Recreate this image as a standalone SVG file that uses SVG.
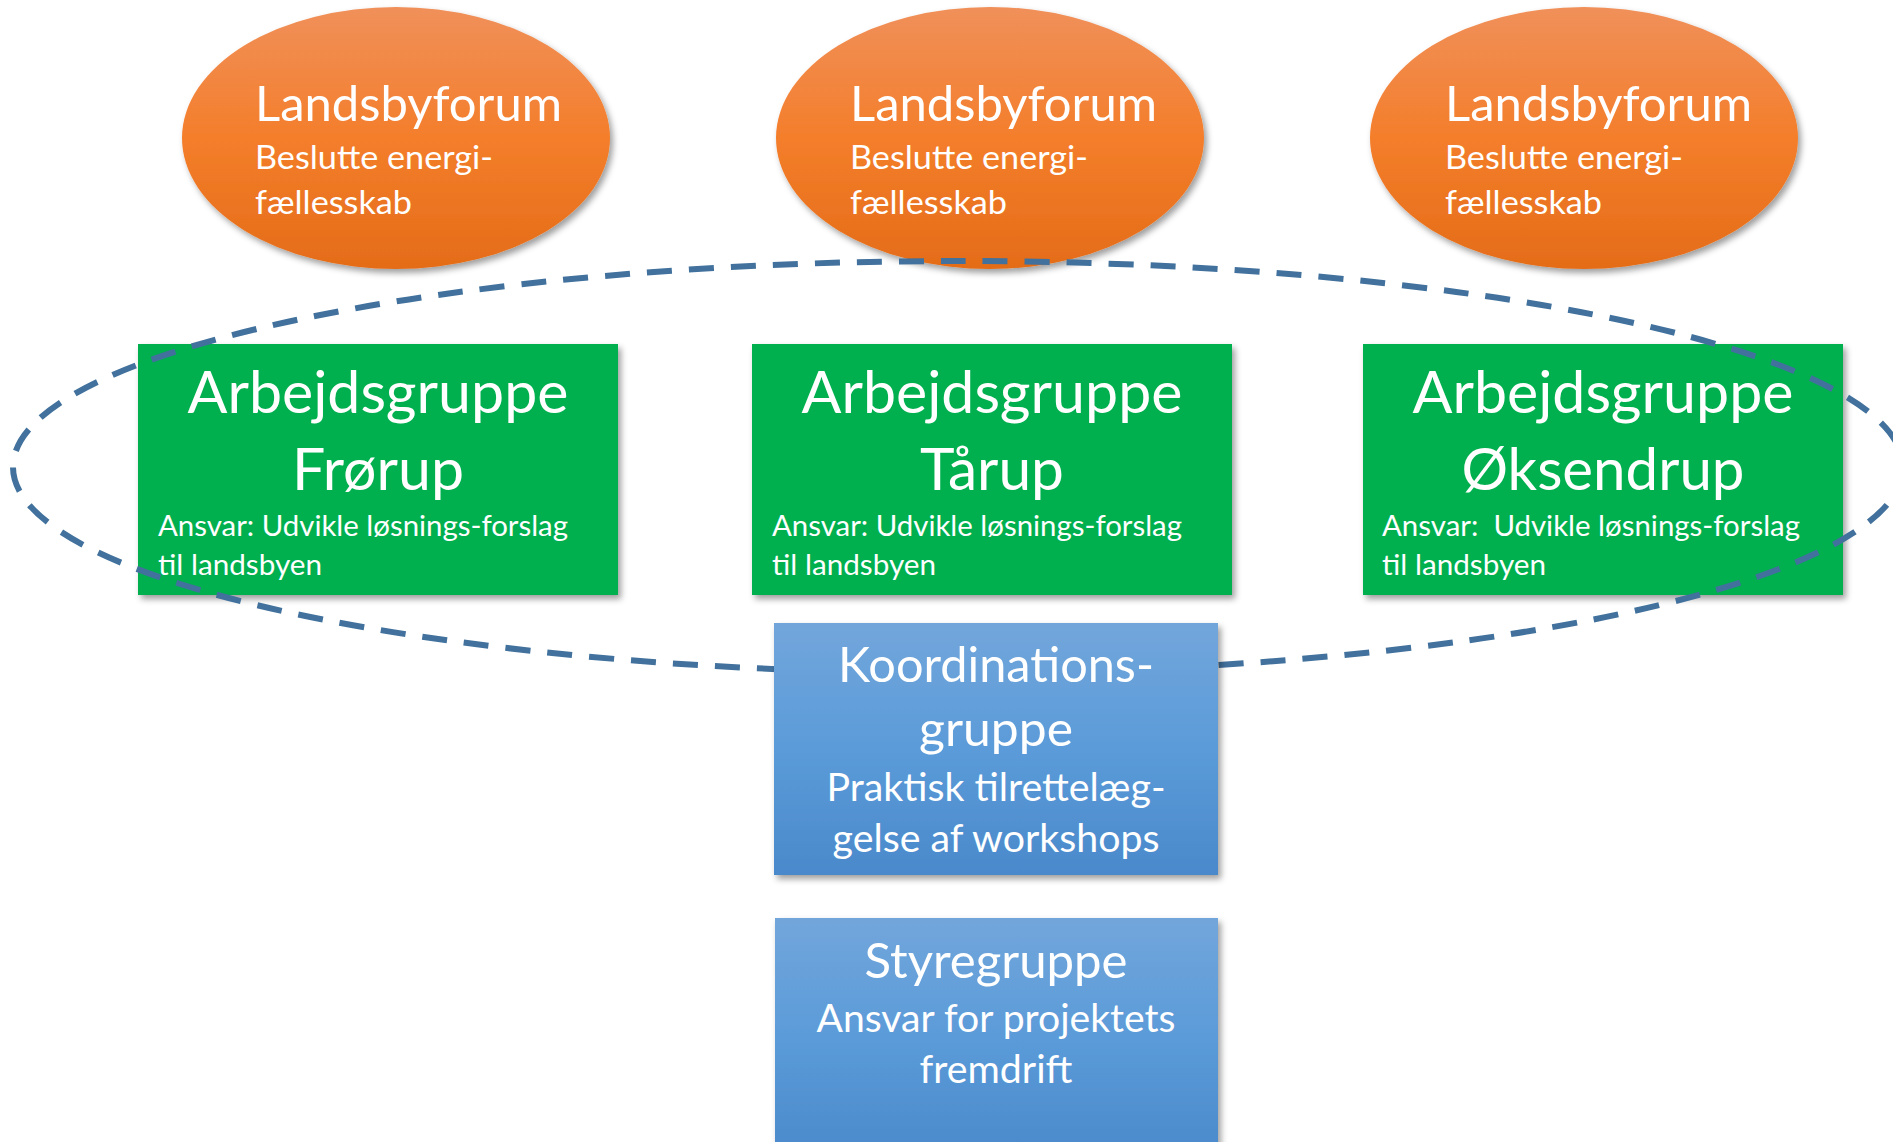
<svg xmlns="http://www.w3.org/2000/svg" width="1893" height="1142" viewBox="0 0 1893 1142">
  <defs>
    <linearGradient id="gOrange" x1="0" y1="0" x2="0" y2="1">
      <stop offset="0" stop-color="#F0905A"/>
      <stop offset="0.5" stop-color="#F47E2B"/>
      <stop offset="1" stop-color="#E46C18"/>
    </linearGradient>
    <linearGradient id="gBlue" x1="0" y1="0" x2="0" y2="1">
      <stop offset="0" stop-color="#72A6DB"/>
      <stop offset="0.5" stop-color="#5B9BD9"/>
      <stop offset="1" stop-color="#4A89CB"/>
    </linearGradient>
    <filter id="shadow" x="-10%" y="-10%" width="125%" height="125%">
      <feDropShadow dx="3" dy="4" stdDeviation="3" flood-color="#000" flood-opacity="0.38"/>
    </filter>
  </defs>
  <style>
    text { font-family: Lato, "Open Sans", "Liberation Sans", sans-serif; fill: #FFFFFF; }
    .lf { fill: url(#gOrange); filter: url(#shadow); }
    .ag { fill: #00B050; filter: url(#shadow); }
    .bl { fill: url(#gBlue); filter: url(#shadow); }
    .t1 { font-size: 48.5px; }
    .t2 { font-size: 33.5px; }
    .h1 { font-size: 57.5px; text-anchor: middle; }
    .s1 { font-size: 28.5px; }
    .k1 { font-size: 47.5px; text-anchor: middle; }
    .k2 { font-size: 38px; text-anchor: middle; }
    .dash { fill: none; stroke: #41719C; stroke-width: 6; stroke-dasharray: 25 17; }
  </style>
  <rect width="1893" height="1142" fill="#FFFFFF"/>

  <g id="landsbyforum-1">
    <ellipse class="lf" cx="396" cy="138" rx="214" ry="131"/>
    <text class="t1" x="255" y="121" textLength="307" lengthAdjust="spacingAndGlyphs">Landsbyforum</text>
    <text class="t2" x="255" y="169" textLength="238" lengthAdjust="spacingAndGlyphs">Beslutte energi-</text>
    <text class="t2" x="255" y="214" textLength="157" lengthAdjust="spacingAndGlyphs">fællesskab</text>
  </g>
  <g id="landsbyforum-2">
    <ellipse class="lf" cx="990" cy="138" rx="214" ry="131"/>
    <text class="t1" x="850" y="121" textLength="307" lengthAdjust="spacingAndGlyphs">Landsbyforum</text>
    <text class="t2" x="850" y="169" textLength="238" lengthAdjust="spacingAndGlyphs">Beslutte energi-</text>
    <text class="t2" x="850" y="214" textLength="157" lengthAdjust="spacingAndGlyphs">fællesskab</text>
  </g>
  <g id="landsbyforum-3">
    <ellipse class="lf" cx="1584" cy="138" rx="214" ry="131"/>
    <text class="t1" x="1445" y="121" textLength="307" lengthAdjust="spacingAndGlyphs">Landsbyforum</text>
    <text class="t2" x="1445" y="169" textLength="238" lengthAdjust="spacingAndGlyphs">Beslutte energi-</text>
    <text class="t2" x="1445" y="214" textLength="157" lengthAdjust="spacingAndGlyphs">fællesskab</text>
  </g>

  <g id="arbejdsgruppe-frorup">
    <rect class="ag" x="138" y="344" width="480" height="251"/>
    <text class="h1" x="378" y="413" textLength="381" lengthAdjust="spacingAndGlyphs">Arbejdsgruppe</text>
    <text class="h1" x="378" y="490" textLength="172" lengthAdjust="spacingAndGlyphs">Frørup</text>
    <text class="s1" x="158" y="536" textLength="410" lengthAdjust="spacingAndGlyphs">Ansvar: Udvikle løsnings-forslag</text>
    <text class="s1" x="158" y="575" textLength="164" lengthAdjust="spacingAndGlyphs">til landsbyen</text>
  </g>
  <g id="arbejdsgruppe-tarup">
    <rect class="ag" x="752" y="344" width="480" height="251"/>
    <text class="h1" x="992" y="413" textLength="381" lengthAdjust="spacingAndGlyphs">Arbejdsgruppe</text>
    <text class="h1" x="992" y="490" textLength="144" lengthAdjust="spacingAndGlyphs">Tårup</text>
    <text class="s1" x="772" y="536" textLength="410" lengthAdjust="spacingAndGlyphs">Ansvar: Udvikle løsnings-forslag</text>
    <text class="s1" x="772" y="575" textLength="164" lengthAdjust="spacingAndGlyphs">til landsbyen</text>
  </g>
  <g id="arbejdsgruppe-oksendrup">
    <rect class="ag" x="1363" y="344" width="480" height="251"/>
    <text class="h1" x="1603" y="413" textLength="381" lengthAdjust="spacingAndGlyphs">Arbejdsgruppe</text>
    <text class="h1" x="1603" y="490" textLength="283" lengthAdjust="spacingAndGlyphs">Øksendrup</text>
    <text class="s1" x="1382" y="536" textLength="418" lengthAdjust="spacingAndGlyphs" xml:space="preserve">Ansvar:  Udvikle løsnings-forslag</text>
    <text class="s1" x="1382" y="575" textLength="164" lengthAdjust="spacingAndGlyphs">til landsbyen</text>
  </g>

  <g id="connectors">
    <ellipse class="dash" cx="958" cy="467" rx="945" ry="206"/>
  </g>

  <g id="koordinationsgruppe">
    <rect class="bl" x="774" y="623" width="444" height="252"/>
    <text class="k1" x="996" y="682" textLength="316" lengthAdjust="spacingAndGlyphs">Koordinations-</text>
    <text class="k1" x="996" y="746" textLength="154" lengthAdjust="spacingAndGlyphs">gruppe</text>
    <text class="k2" x="996" y="801" textLength="339" lengthAdjust="spacingAndGlyphs">Praktisk tilrettelæg-</text>
    <text class="k2" x="996" y="852" textLength="327" lengthAdjust="spacingAndGlyphs">gelse af workshops</text>
  </g>
  <g id="styregruppe">
    <rect class="bl" x="775" y="918" width="443" height="240"/>
    <text class="k1" x="996" y="978" textLength="263" lengthAdjust="spacingAndGlyphs">Styregruppe</text>
    <text class="k2" x="996" y="1032" textLength="359" lengthAdjust="spacingAndGlyphs">Ansvar for projektets</text>
    <text class="k2" x="996" y="1083" textLength="153" lengthAdjust="spacingAndGlyphs">fremdrift</text>
  </g>
</svg>
